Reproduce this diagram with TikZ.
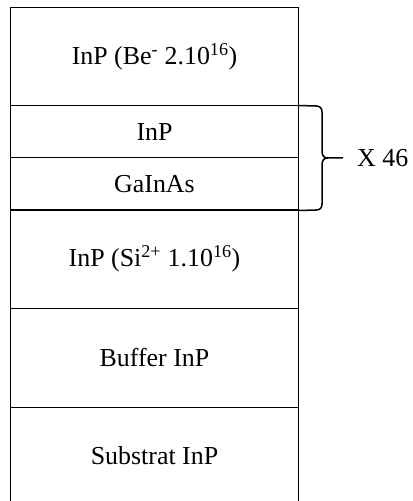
\documentclass[tikz,border=0pt]{standalone}
\usepackage{fontspec}
\setmainfont{Liberation Serif}
\begin{document}
\begin{tikzpicture}[x=1bp,y=-1bp,
  layer/.style={draw=black,line width=1bp,minimum width=287bp,inner sep=0pt,
    font=\fontsize{26}{31}\selectfont},
  bracepath/.style={draw=black,line width=1.5bp},
  lbl/.style={font=\fontsize{26}{31}\selectfont,anchor=west,inner sep=0pt}]
\useasboundingbox (0,0) rectangle (412,501);
\node[layer,minimum height=98bp] (l1) at (154.5,57) {InP (Be\textsuperscript{-} 2.10\textsuperscript{16})};
\node[layer,minimum height=52bp] (l2) at (154.5,132) {InP};
\node[layer,minimum height=52bp] (l3) at (154.5,184) {GaInAs};
\node[layer,minimum height=98bp] (l4) at (154.5,259) {InP (Si\textsuperscript{2+} 1.10\textsuperscript{16})};
\node[layer,minimum height=99bp] (l5) at (154.5,357.5) {Buffer InP};
\node[layer,minimum height=97bp] (l6) at (154.5,455.5) {Substrat InP};
\coordinate (tip) at (343,158);
\draw[bracepath] (l2.north east) -- (316,106) .. controls (320,106) and (322,108) .. (322,112)
  -- (322,151) .. controls (322,156) and (324,158) .. (328,158) -- (tip);
\draw[bracepath] (328,158) .. controls (324,158) and (322,160) .. (322,165)
  -- (322,204) .. controls (322,208) and (320,210) .. (316,210) -- (l3.south east);
\node[lbl] (rep) at (357,158) {X 46};
\end{tikzpicture}
\end{document}
